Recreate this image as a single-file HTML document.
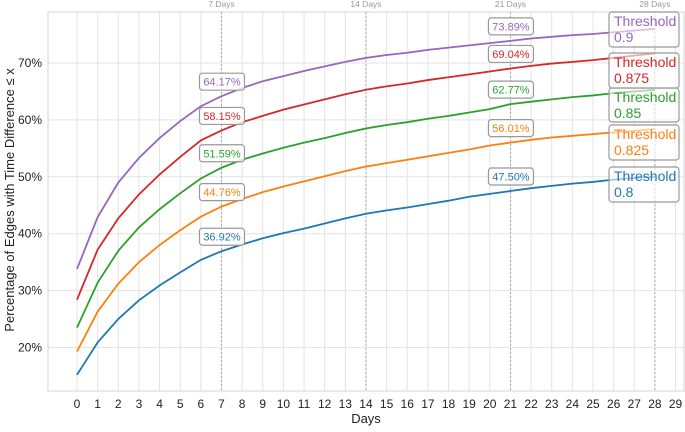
<!DOCTYPE html>
<html><head><meta charset="utf-8"><style>
body{margin:0;background:#fff;width:685px;height:427px;overflow:hidden;font-family:"Liberation Sans",sans-serif}
</style></head><body>
<svg id="chart" width="685" height="427" xmlns="http://www.w3.org/2000/svg" font-family="Liberation Sans, sans-serif"></svg>
<script>
const days = [0,1,2,3,4,5,6,7,8,9,10,11,12,13,14,15,16,17,18,19,20,21,22,23,24,25,26,27,28];
const thresholds = ["0.8","0.825","0.85","0.875","0.9"];
const colors = ["#1f77b4","#ff7f0e","#2ca02c","#d62728","#9467bd"];
const s080 = [15.2,20.9,25.0,28.3,30.9,33.2,35.4,36.92,38.1,39.2,40.1,40.9,41.8,42.7,43.5,44.1,44.6,45.2,45.8,46.5,47.0,47.5,48.0,48.4,48.8,49.1,49.5,49.8,50.0];
const s0825 = [19.3,26.3,31.2,35.0,38.0,40.6,43.0,44.76,46.1,47.3,48.3,49.2,50.1,51.0,51.8,52.4,53.0,53.6,54.2,54.8,55.5,56.01,56.5,56.9,57.2,57.5,57.8,58.1,58.4];
const s085 = [23.5,31.4,37.0,41.1,44.3,47.1,49.7,51.59,53.0,54.1,55.1,56.0,56.8,57.7,58.5,59.1,59.6,60.2,60.7,61.3,61.9,62.77,63.2,63.6,64.0,64.3,64.7,65.0,65.3];
const s0875 = [28.4,37.2,42.7,46.9,50.4,53.5,56.4,58.15,59.6,60.7,61.8,62.7,63.6,64.5,65.3,65.9,66.4,67.0,67.5,68.0,68.5,69.04,69.5,69.9,70.2,70.5,70.9,71.3,71.7];
const s090 = [33.8,42.9,49.0,53.3,56.8,59.8,62.4,64.17,65.6,66.8,67.7,68.6,69.4,70.2,70.9,71.4,71.8,72.3,72.7,73.1,73.5,73.89,74.3,74.6,74.9,75.1,75.4,75.7,76.0];
const series = [s080,s0825,s085,s0875,s090];
const xTicks = [0,1,2,3,4,5,6,7,8,9,10,11,12,13,14,15,16,17,18,19,20,21,22,23,24,25,26,27,28,29];
const yTicks = [20,30,40,50,60,70];
const markerDays = [7,21];
const weekLines = [7,14,21,28];

const svg = document.getElementById('chart');
const NS = 'http://www.w3.org/2000/svg';
const L=48,R=684,T=12,B=391;
const X = d => 77 + d*20.64;
const Y = v => 63 + (70 - v)*5.69;
function mk(tag, attrs, parent){const e=document.createElementNS(NS,tag);for(const k in attrs)e.setAttribute(k,attrs[k]);(parent||svg).appendChild(e);return e;}

const grid = mk('g',{});


xTicks.forEach(d=>{
  const l=mk('line',{x1:X(d),x2:X(d),y1:T,y2:B,stroke:'#e3e3e3','stroke-width':1},grid);
  
  
  const t=mk('text',{x:X(d),y:408,'text-anchor':'middle','font-size':12,fill:'#222'});
  t.textContent=d;
  
  
});
yTicks.forEach(v=>{
  const l=mk('line',{x1:L,x2:R,y1:Y(v),y2:Y(v),stroke:'#e3e3e3','stroke-width':1},grid);
  
  
  const t=mk('text',{x:42,y:Y(v)+4,'text-anchor':'end','font-size':12,fill:'#222'});
  t.textContent=v+'%';
  
  
});
const frame=mk('rect',{x:L,y:T,width:R-L,height:B-T,fill:'none',stroke:'#dcdcdc','stroke-width':1.2});



weekLines.forEach(d=>{
  const l=mk('line',{x1:X(d),x2:X(d),y1:T,y2:B,stroke:'#999','stroke-width':0.8,'stroke-dasharray':'2,2'});
  
  
  const t=mk('text',{x:X(d),y:7,'text-anchor':'middle','font-size':8.5,fill:'#999'});
  t.textContent=d+' Days';
  
  
});

series.forEach((s,i)=>{
  const p=mk('polyline',{points:s.map((v,j)=>X(days[j])+','+Y(v)).join(' '),fill:'none',stroke:colors[i],'stroke-width':1.8});
  
  
  markerDays.forEach(d=>{
    const v=s[days.indexOf(d)];
    const cy=Y(v)-14.5;
    const r=mk('rect',{x:X(d)-22,y:cy-8.5,width:45,height:17,rx:3,fill:'#fff','fill-opacity':0.8,stroke:'#999','stroke-width':1.2});
    
    
    const t=mk('text',{x:X(d)+0.5,y:cy+4,'text-anchor':'middle','font-size':11,fill:colors[i]});
    t.textContent=v.toFixed(2)+'%';
    
    
  });
});

const legendTops=[167,125,88,53,12];
const legendH=[35,35,34,35,35];
series.forEach((s,i)=>{
  const y0=legendTops[i];
  const r=mk('rect',{x:609,y:y0,width:70,height:legendH[i],rx:3,fill:'#fff','fill-opacity':0.6,stroke:'#999','stroke-width':1.2});
  
  
  const t1=mk('text',{x:614,y:y0+14,'font-size':14,fill:colors[i]});
  t1.textContent='Threshold';
  
  
  const t2=mk('text',{x:614,y:y0+30,'font-size':14,fill:colors[i]});
  t2.textContent=thresholds[i];
  
  
});

const xt=mk('text',{x:366,y:423,'text-anchor':'middle','font-size':13,fill:'#222'});
xt.textContent='Days';


const yt=mk('text',{x:0,y:0,'text-anchor':'middle','font-size':13,fill:'#222',transform:'translate(14,200) rotate(-90)'});
yt.textContent='Percentage of Edges with Time Difference ≤ x';


</script>
</body></html>
